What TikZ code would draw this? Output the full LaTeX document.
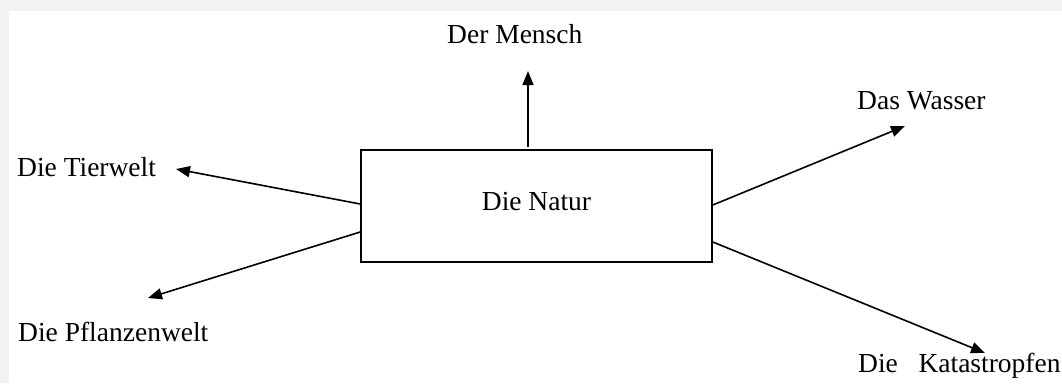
\documentclass[tikz,border=0pt]{standalone}
\usepackage{fontspec}
\setmainfont{Liberation Serif}
\usetikzlibrary{arrows.meta}
\definecolor{bggray}{HTML}{F2F2F2}
\begin{document}
\begin{tikzpicture}[x=1pt,y=-1pt,
  lbl/.style={anchor=base west,inner sep=0pt,font=\fontsize{27.5}{33}\selectfont},
  box/.style={draw,line width=1.6pt,minimum width=351pt,minimum height=112pt,inner sep=0pt,
    font=\fontsize{27.5}{33}\selectfont,text depth=10pt},
  arr/.style={line width=1.6pt,-{Triangle[length=14pt,width=11pt]}}]
\useasboundingbox (0,0) rectangle (1062,383);
\fill[bggray] (0,0) rectangle (1062,383);
\fill[white] (9,11) rectangle (1062,383);
\node[box] (natur) at (536.5,206) {Die Natur};
\node[lbl] (mensch) at (447,43) {Der Mensch};
\node[lbl] (tier) at (17,176) {Die Tierwelt};
\node[lbl] (pflanze) at (18,341) {Die Pflanzenwelt};
\node[lbl] (wasser) at (857,109) {Das Wasser};
\node[lbl] (kata) at (858,372) {Die\ \ \ Katastropfen};
\coordinate (sM) at (528,147);
\coordinate (tM) at (528,71);
\coordinate (sT) at ([yshift=2pt]natur.west);
\coordinate (tT) at (176,169);
\coordinate (sP) at ([yshift=-26pt]natur.west);
\coordinate (tP) at (148,298);
\coordinate (sW) at ([yshift=1pt]natur.east);
\coordinate (tW) at (905,126);
\coordinate (sK) at ([yshift=-36pt]natur.east);
\coordinate (tK) at (985,353);
\draw[arr] (sM) -- (tM);
\draw[arr] (sT) -- (tT);
\draw[arr] (sP) -- (tP);
\draw[arr] (sW) -- (tW);
\draw[arr] (sK) -- (tK);
\end{tikzpicture}
\end{document}
